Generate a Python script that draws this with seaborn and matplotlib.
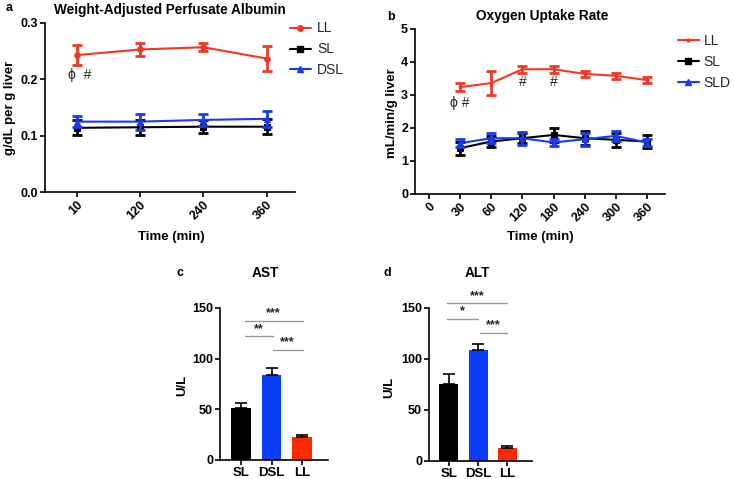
import matplotlib
matplotlib.use("Agg")
import matplotlib.pyplot as plt
from matplotlib.lines import Line2D
import seaborn as sns
import pandas as pd
import numpy as np

# ---------------- data ----------------
a_times = ["10", "120", "240", "360"]
a_LL = [0.243, 0.253, 0.257, 0.237]
a_LL_err = [0.018, 0.011, 0.007, 0.022]
a_SL = [0.114, 0.115, 0.116, 0.116]
a_SL_err = [0.013, 0.013, 0.011, 0.013]
a_DSL = [0.125, 0.125, 0.128, 0.130]
a_DSL_err = [0.010, 0.014, 0.011, 0.014]

b_ticks = ["0", "30", "60", "120", "180", "240", "300", "360"]
b_times = ["30", "60", "120", "180", "240", "300", "360"]
b_LL = [3.24, 3.36, 3.78, 3.78, 3.64, 3.58, 3.45]
b_LL_err = [0.13, 0.36, 0.10, 0.10, 0.08, 0.10, 0.10]
b_SL = [1.39, 1.59, 1.69, 1.79, 1.69, 1.64, 1.59]
b_SL_err = [0.20, 0.17, 0.15, 0.22, 0.22, 0.22, 0.20]
b_SLD = [1.54, 1.69, 1.69, 1.56, 1.66, 1.76, 1.56]
b_SLD_err = [0.12, 0.15, 0.20, 0.10, 0.20, 0.15, 0.10]

bar_groups = ["SL", "DSL", "LL"]
ast_mean = [51.5, 83.4, 22.3]
ast_err = [4.9, 7.5, 2.3]
alt_mean = [75.8, 108.5, 13.0]
alt_err = [9.8, 5.9, 1.7]

# significance brackets: (x0, x1, y, label, text_x)
ast_sig = [(0.15, 2.03, 137.5, "***", 1.06), (0.15, 1.04, 122, "**", 0.6), (1.04, 2.03, 109, "***", 1.5)]
alt_sig = [(-0.07, 2.0, 154.6, "***", 0.97), (-0.07, 1.0, 139.5, "*", 0.45), (1.07, 2.0, 125.8, "***", 1.5)]

RED = "#EE3A24"
BLACK = "#000000"
BLUE = "#1A3AF0"
BAR_RED = "#FF2A00"
BAR_BLUE = "#0B3CFF"

sns.set_theme(style="ticks")
plt.rcParams["font.family"] = ["Liberation Sans", "DejaVu Sans"]
plt.rcParams["axes.linewidth"] = 1.2
plt.rcParams["xtick.major.width"] = 1.2
plt.rcParams["ytick.major.width"] = 1.2
plt.rcParams["xtick.major.size"] = 3.5
plt.rcParams["ytick.major.size"] = 3.5
plt.rcParams["xtick.major.pad"] = 1.5
plt.rcParams["ytick.major.pad"] = 1.5

fig = plt.figure(figsize=(7.34, 4.79), dpi=100)

def style_axes(ax, size=9):
    sns.despine(ax=ax)
    for s in ["left", "bottom"]:
        ax.spines[s].set_color("black")
    ax.tick_params(colors="black", labelsize=size)
    for lab in ax.get_xticklabels() + ax.get_yticklabels():
        lab.set_fontweight("bold")

def line_panel(ax, xlabels, positions, series, xlim, ylim, yticks, yfmt):
    rows = []
    for name, vals, errs, color, marker, ms in series:
        for p, v in zip(positions, vals):
            rows.append({"x": p, "y": v, "g": name})
    df = pd.DataFrame(rows)
    for name, vals, errs, color, marker, ms in series:
        sub = df[df["g"] == name]
        sns.lineplot(data=sub, x="x", y="y", ax=ax, color=color, marker=marker,
                     markersize=ms, markeredgecolor=color, linewidth=1.5, legend=False)
        ax.errorbar(positions, vals, yerr=errs, fmt="none", ecolor=color,
                    elinewidth=2.0, capsize=3.5, capthick=2.0)
    ax.set_xlim(*xlim)
    ax.set_ylim(*ylim)
    ax.set_xticks(range(len(xlabels)))
    ax.set_xticklabels(xlabels, rotation=45, ha="right", rotation_mode="anchor")
    ax.set_yticks(yticks)
    ax.set_yticklabels([yfmt.format(t) for t in yticks])
    ax.set_xlabel("")
    ax.set_ylabel("")
    style_axes(ax)

# ---------------- panel a ----------------
ax_a = fig.add_axes([0.0613, 0.599, 0.3406, 0.353])
series_a = [("LL", a_LL, a_LL_err, RED, "o", 4),
            ("SL", a_SL, a_SL_err, BLACK, "s", 4),
            ("DSL", a_DSL, a_DSL_err, BLUE, "^", 4)]
line_panel(ax_a, a_times, list(range(len(a_times))), series_a,
           (-0.5, 3.45), (0, 0.3), [0, 0.1, 0.2, 0.3], "{:.1f}")
ax_a.text(0.05, 0.207, "ϕ  #", ha="center", va="center", fontsize=10)

# ---------------- panel b ----------------
ax_b = fig.add_axes([0.5654, 0.595, 0.3406, 0.3445])
pos_b = [b_ticks.index(t) for t in b_times]
series_b = [("LL", b_LL, b_LL_err, RED, "o", 2),
            ("SL", b_SL, b_SL_err, BLACK, "s", 4),
            ("SLD", b_SLD, b_SLD_err, BLUE, "^", 4)]
line_panel(ax_b, b_ticks, pos_b, series_b,
           (-0.45, 7.58), (0, 5), [0, 1, 2, 3, 4, 5], "{:d}")
ax_b.text(1.0, 2.77, "ϕ #", ha="center", va="center", fontsize=10)
ax_b.text(3.0, 3.39, "#", ha="center", va="center", fontsize=10)
ax_b.text(4.0, 3.39, "#", ha="center", va="center", fontsize=10)

# legends
def make_handles(series):
    hs = []
    for (name, _, _, color, marker, ms) in series:
        hs.append(Line2D([0], [0], color=color, marker=marker, markersize=ms,
                         linewidth=1.5, label=name))
    return hs

fig.legend(handles=make_handles(series_a), loc="upper left",
           bbox_to_anchor=(0.391, 0.961), frameon=False, fontsize=10,
           handlelength=1.5, handletextpad=0.45, labelspacing=0.5,
           borderaxespad=0, borderpad=0.2)
fig.legend(handles=make_handles(series_b), loc="upper left",
           bbox_to_anchor=(0.920, 0.935), frameon=False, fontsize=10,
           handlelength=1.5, handletextpad=0.35, labelspacing=0.5,
           borderaxespad=0, borderpad=0.2)

# ---------------- bar panels ----------------
def bar_panel(ax, means, errs, sigs):
    df = pd.DataFrame({"g": bar_groups, "v": means})
    sns.barplot(data=df, x="g", y="v", hue="g", ax=ax, legend=False,
                palette={"SL": "black", "DSL": BAR_BLUE, "LL": BAR_RED},
                width=0.65, errorbar=None, saturation=1, edgecolor="none")
    ax.errorbar(range(len(means)), means, yerr=[np.zeros(len(errs)), errs], fmt="none",
                ecolor="black", elinewidth=1.2, capsize=4, capthick=1.2)
    ax.set_ylim(0, 150)
    ax.set_yticks([0, 50, 100, 150])
    ax.set_xlim(-0.68, 2.84)
    ax.set_xlabel("")
    ax.set_ylabel("")
    style_axes(ax)
    ax.tick_params(axis="x", labelsize=9.5)
    for (x0, x1, y, lab, tx) in sigs:
        ax.plot([x0, x1], [y, y], color="#9a9a9a", linewidth=1.0, clip_on=False)
        ax.text(tx, y + 1.5, lab, ha="center", va="bottom", fontsize=9,
                fontweight="bold", clip_on=False)

ax_c = fig.add_axes([0.2997, 0.0397, 0.1471, 0.3173])
bar_panel(ax_c, ast_mean, ast_err, ast_sig)
ax_d = fig.add_axes([0.5845, 0.0376, 0.1403, 0.3194])
bar_panel(ax_d, alt_mean, alt_err, alt_sig)

# ---------------- texts ----------------
bold = dict(fontweight="bold", color="black")
fig.text(0.232, 0.979, "Weight-Adjusted Perfusate Albumin", ha="center", va="center", fontsize=9.8, **bold)
fig.text(0.738, 0.967, "Oxygen Uptake Rate", ha="center", va="center", fontsize=9.8, **bold)
fig.text(0.362, 0.43, "AST", ha="center", va="center", fontsize=9.8, **bold)
fig.text(0.651, 0.43, "ALT", ha="center", va="center", fontsize=9.8, **bold)

fig.text(0.007, 0.983, "a", ha="left", va="center", fontsize=9, **bold)
fig.text(0.533, 0.965, "b", ha="center", va="center", fontsize=9, **bold)
fig.text(0.245, 0.43, "c", ha="center", va="center", fontsize=9, **bold)
fig.text(0.527, 0.43, "d", ha="center", va="center", fontsize=9, **bold)

fig.text(0.233, 0.505, "Time (min)", ha="center", va="center", fontsize=9.5, **bold)
fig.text(0.736, 0.505, "Time (min)", ha="center", va="center", fontsize=9.5, **bold)

fig.text(0.014, 0.775, "g/dL per g liver", ha="center", va="center", rotation=90, fontsize=9.5, **bold)
fig.text(0.534, 0.764, "mL/min/g liver", ha="center", va="center", rotation=90, fontsize=9.5, **bold)
fig.text(0.248, 0.196, "U/L", ha="center", va="center", rotation=90, fontsize=9.5, **bold)
fig.text(0.530, 0.192, "U/L", ha="center", va="center", rotation=90, fontsize=9.5, **bold)

fig.savefig("out.png", dpi=100)
